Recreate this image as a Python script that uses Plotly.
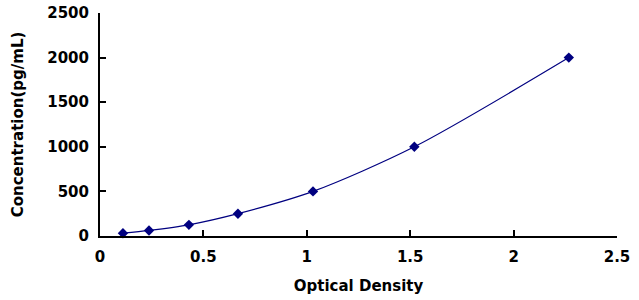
import plotly.graph_objects as go

od = [0.111, 0.237, 0.43, 0.667, 1.03, 1.52, 2.267]
conc = [31.25, 62.5, 125, 250, 500, 1000, 2000]

x_ticks = [0, 0.5, 1, 1.5, 2, 2.5]
x_ticklabels = ["0", "0.5", "1", "1.5", "2", "2.5"]
y_ticks = [0, 500, 1000, 1500, 2000, 2500]

color = "#000080"
fam = "DejaVu Sans, Liberation Sans, Arial, sans-serif"

fig = go.Figure()
fig.add_trace(go.Scatter(
    x=od, y=conc, mode="lines+markers",
    line=dict(color=color, width=1.2, shape="spline", smoothing=0.8),
    marker=dict(symbol="diamond", size=8, color=color),
    showlegend=False, cliponaxis=False,
))

axis_common = dict(
    showline=True, linecolor="black", linewidth=2,
    ticks="inside", ticklen=6, tickwidth=2, tickcolor="black",
    showgrid=False, zeroline=False, automargin=False,
    tickfont=dict(family=fam, size=15, color="black", weight="bold"),
)

fig.update_layout(
    width=639, height=300,
    margin=dict(l=100, r=22, t=13, b=64, autoexpand=False),
    paper_bgcolor="white", plot_bgcolor="white",
    font=dict(family=fam, size=15, color="black"),
    xaxis=dict(range=[0, 2.5], tickvals=x_ticks, ticktext=x_ticklabels,
               ticklabelstandoff=6,
               title=dict(text="Optical Density", font=dict(family=fam, size=15, weight="bold"), standoff=15),
               **axis_common),
    yaxis=dict(range=[0, 2500], tickvals=y_ticks, ticklabelstandoff=6,
               title=dict(text="Concentration(pg/mL)", font=dict(family=fam, size=15, weight="bold"), standoff=20),
               **axis_common),
)

fig.write_html("out.html")
